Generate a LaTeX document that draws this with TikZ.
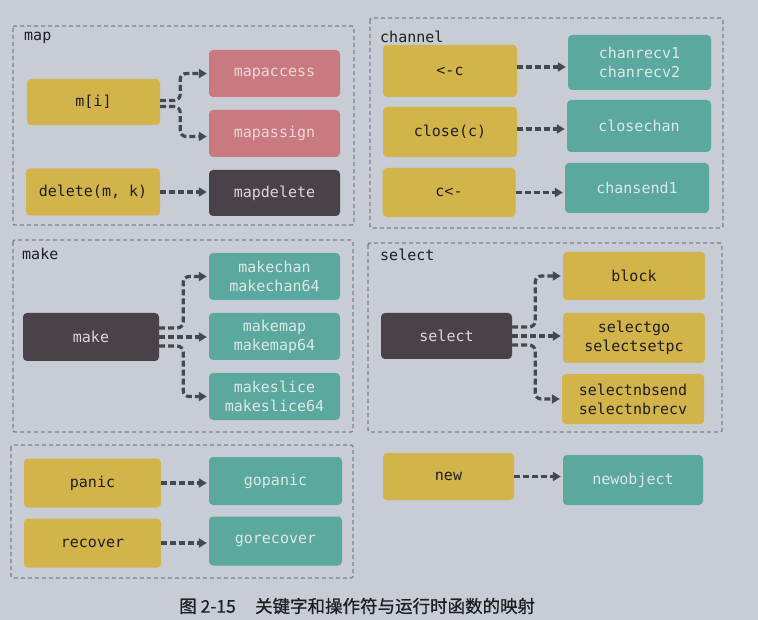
\documentclass[tikz,border=0pt]{standalone}
\usepackage{fontspec}
\setmonofont{DejaVu Sans Mono}
\newfontfamily\cjk[FakeBold=0.8]{Noto Sans CJK SC}
\usetikzlibrary{arrows.meta}
\definecolor{bgc}{HTML}{C8CCD5}
\definecolor{yelb}{HTML}{D2B44A}
\definecolor{redb}{HTML}{C97A80}
\definecolor{tealb}{HTML}{5BA89E}
\definecolor{darkb}{HTML}{4A4249}
\definecolor{pan}{HTML}{7E8189}
\definecolor{arr}{HTML}{46484F}
\definecolor{ink}{HTML}{1F1F22}
\definecolor{tealtxt}{HTML}{DCE9E6}
\definecolor{redtxt}{HTML}{EDD7D9}
\definecolor{darktxt}{HTML}{D9D8DD}
\begin{document}
\begin{tikzpicture}[x=1pt,y=-1pt,
  box/.style={rounded corners=4pt, inner sep=0pt, align=center,
    font=\fontsize{15}{19}\selectfont\ttfamily},
  ybox/.style={box, fill=yelb, text=ink},
  tbox/.style={box, fill=tealb, text=tealtxt},
  rbox/.style={box, fill=redb, text=redtxt},
  dbox/.style={box, fill=darkb, text=darktxt},
  panel/.style={draw=pan, line width=1.4pt, dash pattern=on 4pt off 3pt, rounded corners=2pt},
  conn/.style={draw=arr, line width=3.2pt, dash pattern=on 6pt off 3pt,
    -{Triangle[length=8pt,width=9pt]}, rounded corners=6pt, shorten >=2pt},
  lbl/.style={anchor=west, inner sep=0pt, text=ink, font=\fontsize{15}{17}\selectfont\ttfamily}]
\fill[bgc] (0,0) rectangle (758,620);
\useasboundingbox (0,0) rectangle (758,620);

% panels
\draw[panel] (13,26) rectangle (354,225);
\draw[panel] (370,18) rectangle (723,228);
\draw[panel] (13,240) rectangle (353,432);
\draw[panel] (368,243) rectangle (722,432);
\draw[panel] (11,445) rectangle (353,578);

\node[lbl] (lmap) at (24,38) {map};
\node[lbl] (lchan) at (380,37) {channel};
\node[lbl] (lmake) at (22,254) {make};
\node[lbl] (lsel) at (380,255) {select};

% map
\node[ybox, minimum width=133pt, minimum height=46pt] (mi) at (93.5,102) {m[i]};
\node[rbox, minimum width=131pt, minimum height=47pt] (mapaccess) at (274.5,73.5) {mapaccess};
\node[rbox, minimum width=131pt, minimum height=47pt] (mapassign) at (274.5,133.5) {mapassign};
\node[ybox, minimum width=134pt, minimum height=47pt] (del) at (93,192) {delete(m, k)};
\node[dbox, minimum width=131pt, minimum height=46pt] (mapdelete) at (274.5,193) {mapdelete};
\draw[conn] ([yshift=1.5pt]mi.east) -- ++(20,0) |- (mapaccess.west);
\draw[conn] ([yshift=-4.5pt]mi.east) -- ++(20,0) |- ([yshift=-3pt]mapassign.west);
\draw[conn] (del.east) -- (del.east -| mapdelete.west);

% channel
\node[ybox, minimum width=134pt, minimum height=52pt] (recv) at (450,71) {<-c};
\node[tbox, minimum width=143pt, minimum height=55pt] (chanrecv) at (639.5,62.5) {chanrecv1\\chanrecv2};
\node[ybox, minimum width=134pt, minimum height=50pt] (close) at (450,132) {close(c)};
\node[tbox, minimum width=144pt, minimum height=52pt] (closechan) at (639,126) {closechan};
\node[ybox, minimum width=133pt, minimum height=49pt] (send) at (449,192.5) {c<-};
\node[tbox, minimum width=144pt, minimum height=50pt] (chansend) at (637,188) {chansend1};
\draw[conn] ([yshift=4pt]recv.east) -- ([yshift=4pt]recv.east -| chanrecv.west);
\draw[conn] ([yshift=3pt]close.east) -- ([yshift=3pt]close.east -| closechan.west);
\draw[conn] (send.east) -- (send.east -| chansend.west);

% make
\node[dbox, minimum width=136pt, minimum height=48pt] (make) at (91,337) {make};
\node[tbox, minimum width=131pt, minimum height=47pt] (makechan) at (274.5,276.5) {makechan\\makechan64};
\node[tbox, minimum width=131pt, minimum height=47pt] (makemap) at (274.5,336.5) {makemap\\makemap64};
\node[tbox, minimum width=131pt, minimum height=47pt] (makeslice) at (274.5,396.5) {makeslice\\makeslice64};
\draw[conn] ([yshift=9pt]make.east) -- ++(24,0) |- (makechan.west);
\draw[conn] (make.east) -- (make.east -| makemap.west);
\draw[conn] ([yshift=-9pt]make.east) -- ++(24,0) |- (makeslice.west);

% select
\node[dbox, minimum width=131pt, minimum height=46pt] (sel) at (446.5,336) {select};
\node[ybox, minimum width=142pt, minimum height=48pt] (block) at (634,276) {block};
\node[ybox, minimum width=142pt, minimum height=50pt] (selgo) at (634,338) {selectgo\\selectsetpc};
\node[ybox, minimum width=142pt, minimum height=50pt] (selnb) at (633,399) {selectnbsend\\selectnbrecv};
\draw[conn] ([yshift=9pt]sel.east) -- ++(23,0) |- (block.west);
\draw[conn] (sel.east) -- (sel.east -| selgo.west);
\draw[conn] ([yshift=-9pt]sel.east) -- ++(23,0) |- (selnb.west);

% panic / recover / new
\node[ybox, minimum width=137pt, minimum height=49pt] (panic) at (92.5,483) {panic};
\node[tbox, minimum width=133pt, minimum height=48pt] (gopanic) at (275.5,481) {gopanic};
\node[ybox, minimum width=137pt, minimum height=49pt] (recover) at (92.5,543) {recover};
\node[tbox, minimum width=133pt, minimum height=49pt] (gorecover) at (275.5,541) {gorecover};
\node[ybox, minimum width=131pt, minimum height=47pt] (new) at (448.5,476.5) {new};
\node[tbox, minimum width=140pt, minimum height=50pt] (newobject) at (633,480) {newobject};
\draw[conn] (panic.east) -- (panic.east -| gopanic.west);
\draw[conn] (recover.east) -- (recover.east -| gorecover.west);
\draw[conn] (new.east) -- (new.east -| newobject.west);

% caption
\node[anchor=west, inner sep=0pt, text=ink, font=\cjk\fontsize{17.5}{20}\selectfont] (cap) at (179,606) {图 2-15\hspace{1.1em}关键字和操作符与运行时函数的映射};
\end{tikzpicture}
\end{document}
